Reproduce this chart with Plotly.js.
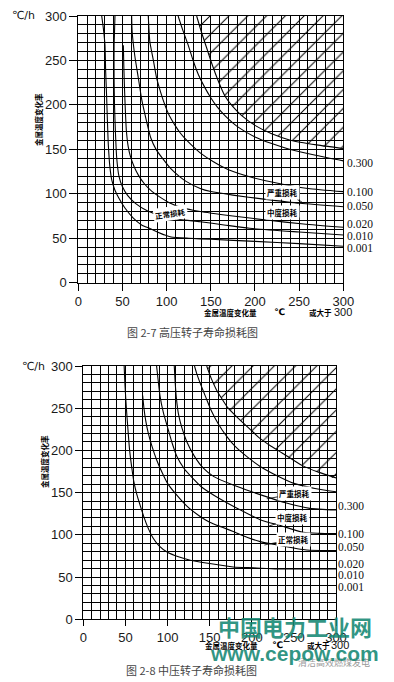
<!DOCTYPE html>
<html><head><meta charset="utf-8">
<script src="https://cdn.plot.ly/plotly-3.0.1.min.js"></script>
<style>html,body{margin:0;padding:0;background:#fff;overflow:hidden}#chart{width:394px;height:682px}</style>
</head><body><div id="chart"></div>
<script>
// ---------------- DATA ----------------
const tickVals = [0, 50, 100, 150, 200, 250, 300];
const tickText = ['0', '50', '100', '150', '200', '250', '300'];
const lossLabels = ['0.300', '0.100', '0.050', '0.020', '0.010', '0.001'];

// 图 2-7 高压转子寿命损耗图 (x: 金属温度变化量 ℃, y: 金属温度变化率 ℃/h)
const hpBoundaryX = [134, 140, 146, 152, 158, 166, 175, 185, 200, 219, 241, 270, 300];
const hpBoundaryY = [300, 280, 262, 244, 228, 210, 198, 188, 177, 167.5, 160, 155, 151];
const hp300X = [113, 118, 124.5, 130, 136, 143, 150, 157, 166, 181, 200, 219, 238, 270, 300];
const hp300Y = [300, 285, 267, 250, 234, 220, 208, 198, 188, 175, 164, 156.5, 150.5, 143, 137];
const hp100X = [79.2, 80, 81, 85, 88.7, 93, 98, 103, 109.5, 115, 121, 128, 138, 153, 170, 198, 230, 260, 300];
const hp100Y = [300, 285, 271, 250, 230, 215, 200, 188, 177, 169, 162, 155, 146, 136, 127, 118, 111, 106, 102.4];
const hp050X = [60.4, 61, 64, 68, 72, 77.4, 82, 88, 96, 105, 115, 122, 138, 150, 175, 210, 251, 300];
const hp050Y = [300, 282, 255, 230, 205, 181, 163, 150, 139, 128, 119, 114, 106, 102.5, 98.5, 94, 89.3, 85.5];
const hp020X = [51, 51.5, 52, 53, 54.5, 56.5, 59, 63, 68, 75, 83, 92, 103, 117, 138, 175, 213, 255, 300];
const hp020Y = [267, 245, 228, 200, 170, 153, 142, 131, 121, 111, 103, 96.5, 90, 84.5, 80, 75, 70.5, 66, 62.3];
const hp010X = [41.5, 41, 40.5, 40.5, 41, 42, 43.5, 46, 50, 56, 65, 78, 95, 115, 138, 165, 194, 250, 300];
const hp010Y = [300, 282, 267, 229, 200, 170, 140, 120, 108, 98, 89, 81, 75, 71, 68.6, 65, 61.2, 57, 53.6];
const hp001X = [26.5, 28.5, 30.2, 31, 32, 33, 34, 35.8, 38, 41.5, 46, 52.8, 62, 71.7, 81, 98, 105, 125, 150, 200, 250, 300];
const hp001Y = [300, 285, 267, 237, 211, 181, 155, 130, 115, 104, 95, 84, 73, 65, 61, 53.6, 51.5, 50, 48.8, 46.5, 44, 41];

// 图 2-8 中压转子寿命损耗图
const ipBoundaryX = [146.5, 152, 158, 164, 172, 185, 198, 210, 223, 236, 260, 280, 300];
const ipBoundaryY = [300, 285, 272, 262, 250, 237, 225, 214, 205, 197, 182, 174, 167.5];
const ipUpperX = [132, 135, 138.6, 145, 152, 160, 170, 180, 195, 210, 230, 250, 275, 300];
const ipUpperY = [300, 290, 280, 264, 247, 232, 217, 205, 192, 181, 170, 161, 155, 151];
const ip300X = [108, 109, 110.5, 113, 117, 123, 132, 142.5, 155, 178, 200, 218, 240, 269, 300];
const ip300Y = [300, 282, 262, 243, 227, 210, 193, 179, 169, 159, 151, 145, 138, 131.4, 129.5];
const ip100X = [87, 89, 91, 95, 101, 106, 111, 120, 130, 140, 155, 178, 210, 234, 261, 280, 300];
const ip100Y = [300, 282, 265, 245, 224, 207, 193, 178, 167, 157, 147, 134, 118, 111, 103, 101.8, 101.5];
const ip050X = [70.5, 72, 74, 77, 81.2, 87, 93, 100, 111, 123, 137, 150, 165, 178, 195, 210, 230, 265, 300];
const ip050Y = [265, 250, 236, 221, 206, 189, 175, 161, 147, 134, 123, 115, 109, 104, 97, 92, 88, 82, 81.5];
const ip010X = [48.5, 49.5, 51, 53, 55, 57.5, 60, 63.5, 67.5, 72, 77, 83, 90, 99, 113, 127, 150, 178, 202, 230, 265, 300];
const ip010Y = [300, 277, 252, 225, 200, 180, 163, 148, 135, 121, 108, 96, 87, 80, 74, 70, 66, 62, 61, 59.6, 59.5, 59.5];

// ---------------- LAYOUT HELPERS ----------------
const W = 394, H = 682;
const PX = v => v / W, PY = v => 1 - v / H;
const AX_MAX = tickVals[tickVals.length - 1];
const labelY = [134.5, 101.5, 86, 66, 53, 38.7];   // label text positions (y units)

const tickFont = {family: 'Liberation Sans, Arial, sans-serif', size: 13, color: '#1a1a1a'};
const cjkBold = (s) => ({family: 'Noto Sans CJK SC', size: s, color: '#000', weight: 700});

function axis(extra) {
  return Object.assign({
    range: [0, AX_MAX], tickmode: 'array', tickvals: tickVals, ticktext: tickText,
    showline: true, linecolor: '#000', linewidth: 1, mirror: true,
    showgrid: true, gridcolor: '#000', gridwidth: 1,
    minor: {tickmode: 'linear', tick0: 0, dtick: 10, showgrid: true, gridcolor: '#000', gridwidth: 1},
    zeroline: false, ticks: 'outside', tickcolor: '#000', tickwidth: 1,
    tickfont: tickFont, fixedrange: true
  }, extra);
}

function curve(x, y, xa, ya) {
  return {x: x, y: y, xaxis: xa, yaxis: ya, mode: 'lines', hoverinfo: 'skip',
          line: {color: '#000', width: 1.1, shape: 'spline', smoothing: 0.6}};
}
function hatch(x, y, xa, ya, size) {
  return {x: x.concat([AX_MAX]), y: y.concat([AX_MAX]), xaxis: xa, yaxis: ya,
          mode: 'lines', fill: 'toself', hoverinfo: 'skip',
          line: {width: 0, color: 'rgba(0,0,0,0)', shape: 'spline', smoothing: 0.6},
          fillcolor: 'rgba(0,0,0,0)',
          fillpattern: {shape: '/', size: size, solidity: 1 / size, fgcolor: '#000', bgcolor: 'rgba(0,0,0,0)'}};
}

const traces = [
  hatch(hpBoundaryX, hpBoundaryY, 'x', 'y', 13.3),
  curve(hpBoundaryX, hpBoundaryY, 'x', 'y'),
  curve(hp300X, hp300Y, 'x', 'y'),
  curve(hp100X, hp100Y, 'x', 'y'),
  curve(hp050X, hp050Y, 'x', 'y'),
  curve(hp020X, hp020Y, 'x', 'y'),
  curve(hp010X, hp010Y, 'x', 'y'),
  curve(hp001X, hp001Y, 'x', 'y'),
  hatch(ipBoundaryX, ipBoundaryY, 'x2', 'y2', 15),
  curve(ipBoundaryX, ipBoundaryY, 'x2', 'y2'),
  curve(ipUpperX, ipUpperY, 'x2', 'y2'),
  curve(ip300X, ip300Y, 'x2', 'y2'),
  curve(ip100X, ip100Y, 'x2', 'y2'),
  curve(ip050X, ip050Y, 'x2', 'y2'),
  curve(ip010X, ip010Y, 'x2', 'y2')
];

function paperText(text, x, y, font, extra) {
  return Object.assign({text: text, xref: 'paper', yref: 'paper', x: PX(x), y: PY(y),
    xanchor: 'center', yanchor: 'middle', showarrow: false, font: font}, extra || {});
}
function leader(text, xa, ya, x, y, ax, ay, extra) {
  return Object.assign({text: text, xref: xa, yref: ya, x: x, y: y, ax: ax, ay: ay,
    showarrow: true, arrowhead: 0, arrowwidth: 0.8, arrowcolor: '#000',
    font: cjkBold(7.5), bgcolor: '#fff', borderpad: 1}, extra || {});
}

const annotations = [];
// right-side loss labels
lossLabels.forEach((t, i) => {
  annotations.push({text: t, xref: 'x', yref: 'y', x: AX_MAX, y: labelY[i], xanchor: 'left', xshift: 2,
    yanchor: 'middle', showarrow: false, font: {family: 'Liberation Serif, serif', size: 11.5, color: '#111'}});
  annotations.push({text: t, xref: 'x2', yref: 'y2', x: AX_MAX, y: labelY[i], xanchor: 'left', xshift: 0,
    yanchor: 'middle', showarrow: false, font: {family: 'Liberation Serif, serif', size: 11.5, color: '#111'}});
});

const unitFont = {family: 'DejaVu Sans, Noto Sans CJK SC', size: 11, color: '#111'};
const capFont = {family: 'Noto Sans CJK SC', size: 11, color: '#444'};
const numFont = {family: 'Liberation Sans', size: 11, color: '#111'};
// chart 1 texts
annotations.push(paperText('℃/h', 23, 16, unitFont));
annotations.push(paperText('金属温度变化率', 38, 120, cjkBold(7.5), {textangle: -90}));
annotations.push(paperText('金属温度变化量', 230, 312, cjkBold(7.5)));
annotations.push(paperText('℃', 279, 312, {family: 'DejaVu Sans', size: 9, color: '#000', weight: 700}));
annotations.push(paperText('或大于', 320.5, 312, cjkBold(7.5)));
annotations.push(paperText('300', 342.5, 312, numFont));
annotations.push(paperText('图 2-7 高压转子寿命损耗图', 192, 332, capFont));
annotations.push(leader('严重损耗', 'x', 'y', 253, 91, -19, -9));
annotations.push(leader('中度损耗', 'x', 'y', 251, 72.4, -18, -6));
annotations.push({text: '正常损耗', xref: 'x', yref: 'y', x: 104.4, y: 77.3, showarrow: false,
  textangle: -8, font: cjkBold(7.5), bgcolor: '#fff', borderpad: 1});
// chart 2 texts
annotations.push(paperText('℃/h', 33, 366, unitFont));
annotations.push(paperText('金属温度变化率', 45, 462, cjkBold(7.5), {textangle: -90}));
annotations.push(paperText('金属温度变化量', 231, 645, cjkBold(7.5)));
annotations.push(paperText('℃', 277, 645, {family: 'DejaVu Sans', size: 9, color: '#000', weight: 700}));
annotations.push(paperText('或大于', 318, 645, cjkBold(7.5)));
annotations.push(paperText('300', 339.5, 645, numFont));
annotations.push(leader('严重损耗', 'x2', 'y2', 217.8, 142.7, 28, -5));
annotations.push(leader('中度损耗', 'x2', 'y2', 217.8, 109.5, 26, -9));
annotations.push(leader('正常损耗', 'x2', 'y2', 215, 88, 29, -6));
annotations.push(paperText('清洁高效燃煤发电', 334, 662, {family: 'Noto Sans CJK SC', size: 9, color: '#9a9a9a'}));
annotations.push(paperText('图 2-8 中压转子寿命损耗图', 191, 670, capFont));
// watermark
annotations.push(paperText('中国电力工业网', 295, 626, {family: 'Noto Sans CJK SC', size: 22, color: 'rgba(20,135,115,0.88)', weight: 700}));
annotations.push(paperText('www.cepow.com', 294, 653, {family: 'Liberation Sans', size: 21, color: 'rgba(20,135,115,0.88)', weight: 700}));

const layout = {
  width: W, height: H, margin: {l: 0, r: 0, t: 0, b: 0},
  paper_bgcolor: '#fff', plot_bgcolor: '#fff', showlegend: false,
  xaxis: axis({domain: [PX(78.3), PX(343.3)], anchor: 'y', ticklen: 7}),
  yaxis: axis({domain: [PY(282.7), PY(16)], anchor: 'x', ticklen: 8}),
  xaxis2: axis({domain: [PX(83.3), PX(336)], anchor: 'y2', ticklen: 6}),
  yaxis2: axis({domain: [PY(619.3), PY(366)], anchor: 'x2', ticklen: 7}),
  xaxis3: {overlaying: 'x2', side: 'top', anchor: 'y2', range: [0, AX_MAX], tickmode: 'array',
           tickvals: tickVals, ticktext: tickText, ticks: '', showline: false, showgrid: false,
           zeroline: false, tickfont: tickFont, fixedrange: true},
  annotations: annotations
};

Plotly.newPlot('chart', traces, layout, {staticPlot: true, displayModeBar: false});
</script>
</body></html>
